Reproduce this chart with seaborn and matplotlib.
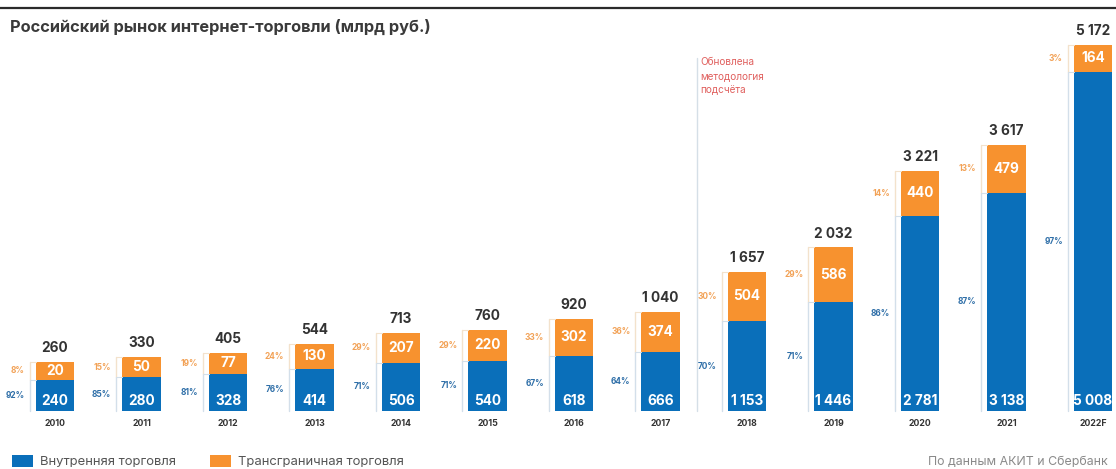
import matplotlib
matplotlib.use("Agg")
import matplotlib.pyplot as plt
from matplotlib.patches import Rectangle
from matplotlib.lines import Line2D
import seaborn as sns
import pandas as pd

# ---------------- data ----------------
years = ["2010", "2011", "2012", "2013", "2014", "2015", "2016", "2017",
         "2018", "2019", "2020", "2021", "2022F"]
domestic = [240, 280, 328, 414, 506, 540, 618, 666, 1153, 1446, 2781, 3138, 5008]
cross_border = [20, 50, 77, 130, 207, 220, 302, 374, 504, 586, 440, 479, 164]
pct_domestic = [92, 85, 81, 76, 71, 71, 67, 64, 70, 71, 86, 87, 97]
pct_cross = [8, 15, 19, 24, 29, 29, 33, 36, 30, 29, 14, 13, 3]

legend_labels = ["Внутренняя торговля", "Трансграничная торговля"]
title = "Российский рынок интернет-торговли (млрд руб.)"
source = "По данным АКИТ и Сбербанк"
method_note = "Обновлена\nметодология\nподсчёта"

# ---------------- style ----------------
BLUE = "#0a6fba"
ORANGE = "#f7922f"
BLUE_PCT = "#2f6fa8"
ORANGE_PCT = "#f2a257"
DARK = "#333333"

W_PX, H_PX = 1116, 469
STEP_PX = 86.5          # distance between bar centres in pixels
FIRST_PX = 55           # centre of first bar in pixels
BASE_PX = 411           # baseline y (from top) in pixels
PX = 15.48              # data units per pixel
BLUE_PAD = 240          # minimum visual padding of segments (label room)
ORANGE_PAD = 260
BAR_W = 0.44

sns.set_theme(style="white")
plt.rcParams["font.family"] = ["Inter", "DejaVu Sans"]


def fmt(v):
    return f"{v:,}".replace(",", " ")


df = pd.DataFrame({"year": years, "dom": domestic, "cross": cross_border})
df["dom_h"] = df["dom"] + BLUE_PAD
df["tot_h"] = df["dom_h"] + df["cross"] + ORANGE_PAD
df["total"] = df["dom"] + df["cross"]

fig = plt.figure(figsize=(W_PX / 100, H_PX / 100), dpi=100)
ax = fig.add_axes([0, 0, 1, 1])

sns.barplot(data=df, x="year", y="tot_h", color=ORANGE, width=BAR_W,
            saturation=1, linewidth=0, errorbar=None, ax=ax)
sns.barplot(data=df, x="year", y="dom_h", color=BLUE, width=BAR_W,
            saturation=1, linewidth=0, errorbar=None, ax=ax)

ax.set_xlim(-FIRST_PX / STEP_PX, (W_PX - FIRST_PX) / STEP_PX)
ax.set_ylim(-(H_PX - BASE_PX) * PX, BASE_PX * PX)
ax.axis("off")

gap = 6 / STEP_PX
for i, row in df.iterrows():
    left = i - BAR_W / 2
    lx = left - gap
    # bracket lines to the left of each bar
    ax.plot([lx, lx], [0, row.dom_h], color="#d3dfea", lw=1, zorder=1)
    ax.plot([lx, lx], [row.dom_h, row.tot_h], color="#f3e2cc", lw=1, zorder=1)
    ax.plot([lx, left], [row.tot_h, row.tot_h], color="#f3e2cc", lw=0.8, zorder=1)
    ax.plot([lx, left], [row.dom_h, row.dom_h], color="#d3dfea", lw=0.8, zorder=1)

    # total above
    ax.annotate(fmt(row.total), (i, row.tot_h), xytext=(0, 10),
                textcoords="offset points", ha="center", va="center",
                fontsize=9.8, fontweight="bold", color=DARK)
    # orange value (centre of orange segment)
    oc = (row.dom_h + row.tot_h) / 2
    ax.text(i, oc, fmt(row.cross), ha="center", va="center",
            fontsize=9.8, fontweight="bold", color="white")
    # blue value near the base
    ax.annotate(fmt(row.dom), (i, 0), xytext=(0, 7.3),
                textcoords="offset points", ha="center", va="center",
                fontsize=9.8, fontweight="bold", color="white")
    # percentages
    ax.annotate(f"{pct_cross[i]}%", (left, oc), xytext=(-8, 0),
                textcoords="offset points", ha="right", va="center",
                fontsize=6, fontweight="bold", color=ORANGE_PCT)
    ax.annotate(f"{pct_domestic[i]}%", (left, row.dom_h / 2), xytext=(-8, 0),
                textcoords="offset points", ha="right", va="center",
                fontsize=6, fontweight="bold", color=BLUE_PCT)
    # year labels
    ax.annotate(row.year, (i, 0), xytext=(0, -9),
                textcoords="offset points", ha="center", va="center",
                fontsize=6.3, fontweight="bold", color=DARK)

# methodology separator
sep_x = (697 - FIRST_PX) / STEP_PX
ax.plot([sep_x, sep_x], [0, (BASE_PX - 58) * PX], color="#d5dfe7", lw=1, zorder=1)
fig.text(700 / W_PX, 1 - 57 / H_PX, method_note, ha="left", va="top",
         fontsize=7.2, color="#e0605e", linespacing=1.45)

# top rule and title
fig.add_artist(Line2D([0, 1], [1 - 8 / H_PX] * 2, color="#2b2b2b", lw=1.6))
fig.text(10 / W_PX, 1 - 27 / H_PX, title, ha="left", va="center",
         fontsize=11.8, fontweight="bold", color="#3a3a3a")

# legend
fig.add_artist(Rectangle((12 / W_PX, 1 - 467 / H_PX), 21 / W_PX, 12 / H_PX,
                         transform=fig.transFigure, color=BLUE, lw=0))
fig.text(40 / W_PX, 1 - 462 / H_PX, legend_labels[0], ha="left", va="center",
         fontsize=9.4, color="#555555")
fig.add_artist(Rectangle((210 / W_PX, 1 - 467 / H_PX), 21 / W_PX, 12 / H_PX,
                         transform=fig.transFigure, color=ORANGE, lw=0))
fig.text(238 / W_PX, 1 - 462 / H_PX, legend_labels[1], ha="left", va="center",
         fontsize=9.4, color="#555555")

fig.text(1108 / W_PX, 1 - 462 / H_PX, source, ha="right", va="center",
         fontsize=8.9, color="#8a8a8a")

fig.savefig("out.png", dpi=100)
